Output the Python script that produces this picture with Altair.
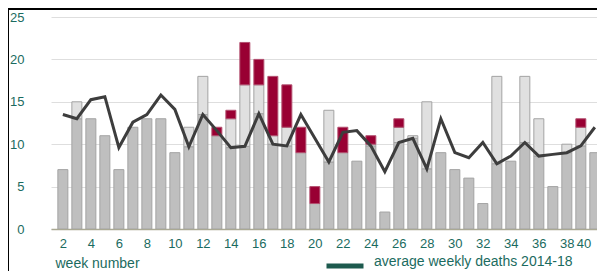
import altair as alt
import pandas as pd

# ---- data ----
weeks = list(range(2, 41))
other_deaths = [7, 15, 13, 11, 7, 12, 13, 13, 9, 12, 18, 11, 13, 17, 17, 11, 12, 9, 3, 14,
                9, 8, 10, 2, 12, 11, 15, 9, 7, 6, 3, 18, 8, 18, 13, 5, 10, 12, 9]
covid_deaths = [0, 0, 0, 0, 0, 0, 0, 0, 0, 0, 0, 1, 1, 5, 3, 7, 5, 3, 2, 0,
                3, 0, 1, 0, 1, 0, 0, 0, 0, 0, 0, 0, 0, 0, 0, 0, 0, 1, 0]
average_2014_18 = [13.5, 13.0, 15.25, 15.6, 9.6, 12.6, 13.5, 15.8, 14.1, 9.7, 13.5, 11.6, 9.6,
                   9.75, 13.6, 10.0, 9.8, 13.5, 10.7, 7.9, 11.4, 11.6, 9.8, 6.75, 10.2, 10.7,
                   7.1, 13.0, 9.0, 8.4, 10.2, 7.7, 8.6, 10.2, 8.6, 8.8, 9.0, 9.8, 12.0]
series_label = "average weekly deaths 2014-18"
x_ticks = list(range(2, 41, 2))
y_ticks = [0, 5, 10, 15, 20, 25]

segments = ["up to average", "above average", "covid"]
seg_fill = ["#bfbfbf", "#e0e0e0", "#990033"]
seg_stroke = ["#a3a3a3", "#a3a3a3", "#b35070"]

rows = []
for w, n, c, a in zip(weeks, other_deaths, covid_deaths, average_2014_18):
    parts = [min(n, a), max(n - a, 0), c]
    for i, v in enumerate(parts):
        if v > 0:
            rows.append({"week": w, "segment": segments[i], "value": v, "order": i})
bars_df = pd.DataFrame(rows)
line_df = pd.DataFrame({"week": weeks, "avg": average_2014_18, "series": series_label})

TEAL = "#1b6b60"
FONT = "Liberation Sans"
W, H = 546, 212
step = 14.26
x_dom = [2 - 7 / step, 2 + (W - 7) / step]
last_tick = x_ticks[-1]

x_scale = alt.Scale(domain=x_dom, nice=False, zero=False)
y_scale = alt.Scale(domain=[0, 25], nice=False)

x_axis = alt.Axis(values=x_ticks, grid=False, ticks=False, labelPadding=8,
                  labelFontSize=13, labelColor=TEAL, labelFont=FONT,
                  labelAlign={"condition": {"test": f"datum.value >= {last_tick}", "value": "right"},
                              "value": "center"},
                  labelOffset={"condition": {"test": f"datum.value >= {last_tick}", "value": -4},
                               "value": 0},
                  domainColor="#aaa994", domainWidth=1.5,
                  title="week number", titleFont=FONT, titleFontSize=14,
                  titleFontWeight="normal", titleColor=TEAL, titleAnchor="start",
                  titleAlign="left", titleBaseline="alphabetic", titleX=4, titleY=38)
y_axis = alt.Axis(values=y_ticks, grid=True, gridColor="#dedede", gridWidth=1,
                  ticks=False, domain=False, labelPadding=27, labelFontSize=13,
                  labelColor=TEAL, labelFont=FONT, title=None)

bars = alt.Chart(bars_df).mark_bar(size=10, strokeWidth=1, clip=True).encode(
    x=alt.X("week:Q", scale=x_scale, axis=x_axis),
    y=alt.Y("value:Q", stack="zero", scale=y_scale, axis=y_axis),
    fill=alt.Fill("segment:N", scale=alt.Scale(domain=segments, range=seg_fill), legend=None),
    stroke=alt.Stroke("segment:N", scale=alt.Scale(domain=segments, range=seg_stroke), legend=None),
    order=alt.Order("order:Q"),
)

line = alt.Chart(line_df).mark_line(strokeWidth=3, color="#3d3d3d", clip=True).encode(
    x=alt.X("week:Q", scale=x_scale, axis=x_axis),
    y=alt.Y("avg:Q", scale=y_scale, axis=y_axis),
)

legend_layer = alt.Chart(line_df).transform_filter("false").mark_line(strokeWidth=5).encode(
    x=alt.X("week:Q", scale=x_scale, axis=x_axis),
    y=alt.Y("avg:Q", scale=y_scale, axis=y_axis),
    color=alt.Color("series:N", scale=alt.Scale(domain=[series_label], range=["#1d5a4e"]),
                    legend=alt.Legend(title=None, orient="none", legendX=273, legendY=228,
                                      symbolType="stroke", symbolSize=1369,
                                      symbolStrokeWidth=5, labelFont=FONT, labelFontSize=14,
                                      labelColor=TEAL, labelOffset=8, labelLimit=400,
                                      labelBaseline="alphabetic", padding=0)),
)

frame_data = alt.Data(values=[{}])
frame_left = alt.Chart(frame_data).mark_rule(color="black", strokeWidth=2).encode(
    x=alt.value(-43), y=alt.value(-9), y2=alt.value(H + 42))
frame_top = alt.Chart(frame_data).mark_rule(color="black", strokeWidth=2).encode(
    x=alt.value(-43), x2=alt.value(W), y=alt.value(-8))

chart = alt.layer(bars, line, legend_layer, frame_left, frame_top).properties(
    width=W, height=H,
    autosize=alt.AutoSizeParams(type="none"),
    padding={"left": 43, "top": 9, "right": 0, "bottom": 42},
    background="white",
).configure_view(stroke=None)

chart.save("out.html", embed_options={"renderer": "svg", "actions": False})
